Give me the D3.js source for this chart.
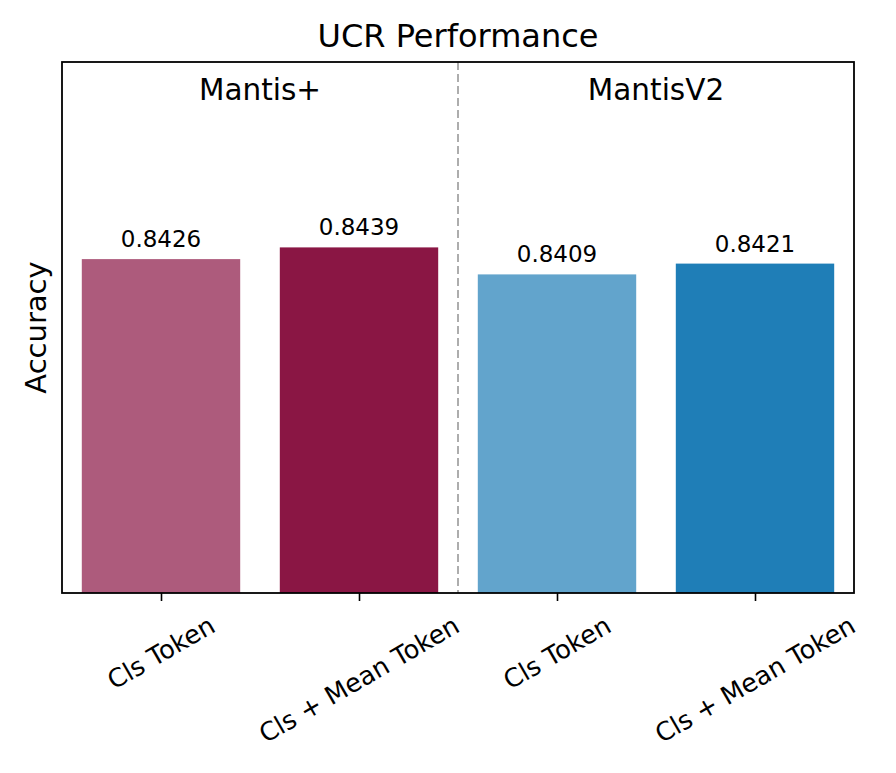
<!DOCTYPE html>
<html><head><meta charset="utf-8">
<script src="https://cdn.jsdelivr.net/npm/d3@7"></script>
<style>html,body{margin:0;padding:0;background:#fff;} svg{display:block;font-family:"DejaVu Sans",sans-serif;}</style>
</head><body>
<script>
const categories = ["Cls Token", "Cls + Mean Token", "Cls Token", "Cls + Mean Token"];
const values = [0.8426, 0.8439, 0.8409, 0.8421];
const groups = ["Mantis+", "MantisV2"];
const groupOf = [0, 0, 1, 1];
const colors = ["#8a1644", "#8a1644", "#1f7eb7", "#1f7eb7"];
const opacities = [0.7, 1, 0.7, 1];
const title = "UCR Performance";
const yLabel = "Accuracy";
const yDomain = [0.8055, 0.8645];

const W = 896, H = 773;
const m = {left: 62, right: 896 - 854, top: 62, bottom: 773 - 593};
const svg = d3.select("body").append("svg").attr("width", W).attr("height", H);

const x = d3.scaleLinear().domain([-0.5, categories.length - 0.5]).range([m.left, W - m.right]);
const y = d3.scaleLinear().domain(yDomain).range([H - m.bottom, m.top]);
const unit = x(1) - x(0);
const bw = 0.8 * unit;

// bars
svg.append("g").selectAll("rect").data(values).join("rect")
  .attr("x", (d, i) => x(i) - bw / 2)
  .attr("y", d => y(d))
  .attr("width", bw)
  .attr("height", d => y(yDomain[0]) - y(d))
  .attr("fill", (d, i) => colors[i])
  .attr("fill-opacity", (d, i) => opacities[i]);

// value labels
svg.append("g").selectAll("text").data(values).join("text")
  .attr("x", (d, i) => x(i))
  .attr("y", d => y(d) - 12)
  .attr("text-anchor", "middle")
  .attr("font-size", 23)
  .text(d => d.toFixed(4));

// divider
svg.append("line")
  .attr("x1", x(1.5)).attr("x2", x(1.5))
  .attr("y1", y.range()[1]).attr("y2", y.range()[0])
  .attr("stroke", "#999").attr("stroke-width", 1.6)
  .attr("stroke-dasharray", "8,4");

// group labels
svg.append("g").selectAll("text").data(groups).join("text")
  .attr("x", (d, gi) => x(d3.mean(values.map((v, i) => i).filter(i => groupOf[i] === gi))))
  .attr("y", 100)
  .attr("text-anchor", "middle")
  .attr("font-size", 29.5)
  .text(d => d);

// frame
svg.append("rect")
  .attr("x", m.left).attr("y", m.top)
  .attr("width", W - m.left - m.right).attr("height", H - m.top - m.bottom)
  .attr("fill", "none").attr("stroke", "#000").attr("stroke-width", 1.8);

// x axis ticks
const xAxis = d3.axisBottom(x).tickValues(d3.range(categories.length)).tickSize(8).tickFormat("");
const gx = svg.append("g").attr("transform", `translate(0,${H - m.bottom})`).call(xAxis);
gx.select(".domain").remove();
gx.selectAll(".tick line").attr("stroke", "#000").attr("stroke-width", 1.6);

// rotated tick labels (matplotlib ha=center, rotation=30)
const fs = 25.5, ang = 30 * Math.PI / 180, y0 = H - m.bottom + 17;
categories.forEach((c, i) => {
  const g = svg.append("g");
  const t = g.append("text").attr("font-size", fs).attr("text-anchor", "middle")
    .attr("dy", "0.35em").text(c);
  const w = t.node().getComputedTextLength();
  const h = 1.17 * fs;
  const bh = w * Math.sin(ang) + h * Math.cos(ang);
  g.attr("transform", `translate(${x(i)},${y0 + bh / 2}) rotate(-30)`);
});

// title
svg.append("text").attr("x", (m.left + W - m.right) / 2).attr("y", 47)
  .attr("text-anchor", "middle").attr("font-size", 32).text(title);

// y label
svg.append("text").attr("transform", `translate(46,${(m.top + H - m.bottom) / 2}) rotate(-90)`)
  .attr("text-anchor", "middle").attr("font-size", 29).text(yLabel);
</script>
</body></html>
